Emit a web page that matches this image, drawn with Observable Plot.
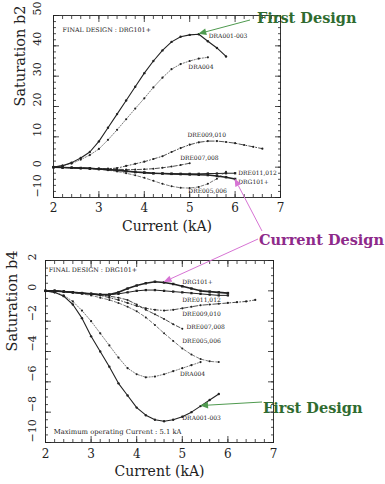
<!DOCTYPE html>
<html><head><meta charset="utf-8">
<script src="https://cdn.jsdelivr.net/npm/d3@7"></script>
<script src="https://cdn.jsdelivr.net/npm/@observablehq/plot@0.6"></script>
<style>
body{margin:0;background:#fff}
#wrap{position:relative;width:385px;height:484px;overflow:hidden;background:#fff}
#wrap svg{position:absolute;left:0}
</style></head><body><div id="wrap"></div>
<script>
// ---------------- data ----------------
const currentKA = [2.0,2.2,2.4,2.6,2.8,3.0,3.2,3.4,3.6,3.8,4.0,4.2,4.4,4.6,4.8,5.0,5.2,5.4,5.6,5.8,6.0,6.2,6.4,6.6];
const seriesNames = ["DRA001-003","DRA004","DRE009,010","DRE007,008","DRE011,012","DRG101+","DRE005,006"];

// Saturation b2 (top panel)
const b2_DRA001_003 = [0,0.5,1.5,3,5,8.5,13,17.5,22,26.5,31,35,38.5,41.3,43,43.6,43.8,41.5,39.3,36.5];
const b2_DRA004     = [0,0.5,1.2,2.5,4,6,9,12.3,15.8,19.3,22.7,26.3,29.5,32.3,34,35,35.8,36.2];
const b2_DRE009_010 = [0,-0.1,-0.2,-0.3,-0.4,-0.5,-0.5,-0.3,0.4,1.1,1.8,2.7,3.6,5.0,6.3,7.4,8.2,8.6,8.6,8.3,7.9,7.3,6.7,6.1];
const b2_DRE007_008 = [0,-0.1,-0.2,-0.3,-0.4,-0.5,-0.6,-0.7,-0.8,-0.8,-0.7,-0.5,-0.2,0.2,0.7,1.3];
const b2_DRE011_012 = [0,-0.1,-0.2,-0.3,-0.4,-0.6,-0.8,-1.0,-1.3,-1.6,-1.8,-2.0,-2.1,-2.2,-2.2,-2.2,-2.2,-2.1,-2.1,-2.0,-2.0];
const b2_DRG101p    = [0,-0.1,-0.2,-0.3,-0.4,-0.6,-0.8,-1.0,-1.3,-1.6,-1.8,-2.0,-2.1,-2.2,-2.3,-2.4,-2.5,-2.6,-2.9,-3.3,-3.9];
const b2_DRE005_006 = [0,-0.1,-0.2,-0.35,-0.5,-0.7,-1.0,-1.4,-2.0,-2.7,-3.5,-4.5,-5.5,-6.3,-6.8,-6.9,-6.5,-5.5,-3.8,-1.5];

// Saturation b4 (bottom panel)
const b4_DRA001_003 = [0,-0.1,-0.35,-0.9,-1.8,-3.0,-4.0,-5.0,-6.1,-6.9,-7.7,-8.2,-8.5,-8.6,-8.5,-8.3,-8.0,-7.6,-7.2,-6.8];
const b4_DRA004     = [0,-0.1,-0.3,-0.7,-1.3,-2.0,-2.8,-3.6,-4.4,-5.1,-5.5,-5.7,-5.65,-5.5,-5.3,-5.1,-4.9,-4.7];
const b4_DRE009_010 = [0,0,-0.05,-0.1,-0.15,-0.2,-0.3,-0.45,-0.6,-0.8,-1.0,-1.15,-1.25,-1.3,-1.25,-1.15,-1.05,-0.95,-0.9,-0.85,-0.8,-0.75,-0.7,-0.6];
const b4_DRE007_008 = [0,0,-0.05,-0.1,-0.15,-0.2,-0.25,-0.35,-0.45,-0.6,-0.9,-1.25,-1.55,-1.85,-2.2,-2.5];
const b4_DRE011_012 = [0,0,-0.05,-0.1,-0.15,-0.2,-0.25,-0.25,-0.2,-0.1,0,0.05,0.05,0,-0.05,-0.1,-0.15,-0.2,-0.25,-0.3,-0.3];
const b4_DRG101p    = [0,0,-0.05,-0.1,-0.15,-0.2,-0.25,-0.25,-0.1,0.15,0.35,0.5,0.6,0.55,0.45,0.3,0.15,0.0,-0.05,-0.1,-0.15];
const b4_DRE005_006 = [0,0,-0.05,-0.1,-0.2,-0.3,-0.45,-0.6,-0.8,-1.05,-1.35,-1.75,-2.25,-2.8,-3.3,-3.8,-4.2,-4.5,-4.65,-4.7];

const currentTicks = [2,3,4,5,6,7];
const b2Ticks = [50,40,30,20,10,0,-10];
const b4Ticks = [2,0,-2,-4,-6,-8,-10];

// label anchor points (data coords) for each curve's name
const b2LabelX = [5.42,4.97,4.95,4.79,6.07,6.07,4.97];
const b2LabelY = [43.3,33,10.7,3,-2,-5,-8];
const b4LabelX = [5.0,4.95,5.0,5.09,5.0,5.0,5.0];
const b4LabelY = [-8.4,-5.5,-1.5,-2.4,-0.6,0.6,-3.3];

// ---------------- styles ----------------
const ink = "#222";
const serif = "DejaVu Serif";
const lineStyle = {
  "DRA001-003": {w:1.1, dash:null, r:1.2, symbol:"circle"},
  "DRA004":     {w:0.6, dash:"1.2,1.6", r:1.1, symbol:"circle"},
  "DRE009,010": {w:0.8, dash:"5,2,1,2", r:1.1, symbol:"circle"},
  "DRE007,008": {w:0.8, dash:"4,2", r:1.0, symbol:"circle"},
  "DRE011,012": {w:1.0, dash:null, r:1.3, symbol:"square"},
  "DRG101+":    {w:1.6, dash:null, r:1.4, symbol:"square"},
  "DRE005,006": {w:0.6, dash:"3,2", r:1.0, symbol:"circle"}
};

function rowsFrom(list) {
  const rows = [];
  list.forEach((vals, k) => vals.forEach((v, i) => rows.push({series: seriesNames[k], current: currentKA[i], value: v})));
  return rows;
}
const b2Rows = rowsFrom([b2_DRA001_003,b2_DRA004,b2_DRE009_010,b2_DRE007_008,b2_DRE011_012,b2_DRG101p,b2_DRE005_006]);
const b4Rows = rowsFrom([b4_DRA001_003,b4_DRA004,b4_DRE009_010,b4_DRE007_008,b4_DRE011_012,b4_DRG101p,b4_DRE005_006]);

function curveMarks(rows) {
  return seriesNames.flatMap(name => {
    const st = lineStyle[name];
    const d = rows.filter(r => r.series === name);
    return [
      Plot.line(d, {x:"current", y:"value", stroke: ink, strokeWidth: st.w, strokeDasharray: st.dash}),
      Plot.dot(d, {x:"current", y:"value", r: st.r, fill: ink, stroke: null, symbol: st.symbol})
    ];
  });
}

function tickMarks(xMaj, xMin, yMaj, yMin) {
  const o = {tickFormat: () => "", label: null, stroke: ink, strokeWidth: 0.8};
  return [
    Plot.axisX(xMaj, {...o, anchor:"bottom", tickSize:-6}),
    Plot.axisX(xMin, {...o, anchor:"bottom", tickSize:-3}),
    Plot.axisX(xMaj, {...o, anchor:"top", tickSize:-6}),
    Plot.axisX(xMin, {...o, anchor:"top", tickSize:-3}),
    Plot.axisY(yMaj, {...o, anchor:"left", tickSize:-6}),
    Plot.axisY(yMin, {...o, anchor:"left", tickSize:-3}),
    Plot.axisY(yMaj, {...o, anchor:"right", tickSize:-6}),
    Plot.axisY(yMin, {...o, anchor:"right", tickSize:-3})
  ];
}

function labelMarks(xs, ys) {
  return Plot.text(seriesNames, {x: (d,i) => xs[i], y: (d,i) => ys[i], text: d => d,
    textAnchor:"start", fontSize: 6, fontFamily: serif, fill: ink});
}

const fmt = d => (d < 0 ? "\u2212" + Math.abs(d) : String(d));
const minorX = d3.range(2, 7.0001, 0.2);

const topChart = Plot.plot({
  width: 385, height: 250,
  marginLeft: 53, marginRight: 105, marginTop: 15, marginBottom: 53,
  style: {background:"transparent", overflow:"visible", fontFamily: serif},
  x: {domain: [2, 7]},
  y: {domain: [-10, 50]},
  marks: [
    ...curveMarks(b2Rows),
    labelMarks(b2LabelX, b2LabelY),
    Plot.text(["FINAL DESIGN : DRG101+"], {x: 2.2, y: 45.3, text: d => d, textAnchor:"start", fontSize: 6.3, fontFamily: serif, fill: ink}),
    Plot.frame({stroke: ink, strokeWidth: 0.9}),
    ...tickMarks(currentTicks, minorX, b2Ticks, d3.range(-10, 50.001, 2)),
    Plot.text(currentTicks, {x: d => d, frameAnchor:"bottom", dy: 14, text: fmt, fontSize: 12, fontFamily: serif, fill: ink}),
    Plot.text(b2Ticks, {y: d => d, frameAnchor:"left", dx: -16, rotate: -90, text: fmt, fontSize: 11, fontFamily: serif, fill: ink}),
    Plot.text(["Current (kA)"], {frameAnchor:"bottom", dy: 33, text: d => d, fontSize: 14, fontFamily: serif, fill: ink}),
    Plot.text(["Saturation b2"], {frameAnchor:"left", dx: -33, rotate: -90, text: d => d, fontSize: 14.5, fontFamily: serif, fill: ink})
  ]
});

const bottomTop = 244;
const bottomChart = Plot.plot({
  width: 385, height: 240,
  marginLeft: 45, marginRight: 112, marginTop: 16, marginBottom: 42,
  style: {background:"transparent", overflow:"visible", fontFamily: serif},
  x: {domain: [2, 7]},
  y: {domain: [-10, 2]},
  marks: [
    ...curveMarks(b4Rows),
    labelMarks(b4LabelX, b4LabelY),
    Plot.text(["FINAL DESIGN : DRG101+"], {x: 2.07, y: 1.4, text: d => d, textAnchor:"start", fontSize: 6.3, fontFamily: serif, fill: ink}),
    Plot.text(["Maximum operating Current : 5.1 kA"], {x: 2.18, y: -9.3, text: d => d, textAnchor:"start", fontSize: 6.8, fontFamily: serif, fill: ink}),
    Plot.frame({stroke: ink, strokeWidth: 0.9}),
    ...tickMarks(currentTicks, minorX, b4Ticks, d3.range(-10, 2.001, 0.5)),
    Plot.text(currentTicks, {x: d => d, frameAnchor:"bottom", dy: 15, text: fmt, fontSize: 12, fontFamily: serif, fill: ink}),
    Plot.text(b4Ticks, {y: d => d, frameAnchor:"left", dx: -13, rotate: -90, text: fmt, fontSize: 11, fontFamily: serif, fill: ink}),
    Plot.text(["Current (kA)"], {frameAnchor:"bottom", dy: 33, text: d => d, fontSize: 14, fontFamily: serif, fill: ink}),
    Plot.text(["Saturation b4"], {frameAnchor:"left", dx: -33, rotate: -90, text: d => d, fontSize: 14.5, fontFamily: serif, fill: ink})
  ]
});

const wrap = document.getElementById("wrap");
topChart.style.top = "0px";
bottomChart.style.top = bottomTop + "px";
wrap.append(topChart, bottomChart);

// ---------------- annotations overlay ----------------
const tx = topChart.scale("x"), ty = topChart.scale("y");
const bx = bottomChart.scale("x"), by = bottomChart.scale("y");
const topPt = (x, y) => [tx.apply(x), ty.apply(y)];
const botPt = (x, y) => [bx.apply(x), by.apply(y) + bottomTop];

const ov = d3.create("svg").attr("width", 385).attr("height", 484)
  .style("top", "0px").style("pointer-events", "none");

function arrow([x1, y1], [x2, y2], color) {
  const a = Math.atan2(y2 - y1, x2 - x1), L = 8, W = 3.3;
  const hx = x2 - L * Math.cos(a), hy = y2 - L * Math.sin(a);
  ov.append("line").attr("x1", x1).attr("y1", y1).attr("x2", hx).attr("y2", hy)
    .attr("stroke", color).attr("stroke-width", 1);
  ov.append("path")
    .attr("d", `M${x2},${y2}L${hx - W*Math.sin(a)},${hy + W*Math.cos(a)}L${hx + W*Math.sin(a)},${hy - W*Math.cos(a)}Z`)
    .attr("fill", color);
}
function label(x, y, txt, color) {
  ov.append("text").attr("x", x).attr("y", y).text(txt)
    .attr("fill", color).attr("font-family", serif).attr("font-weight", "bold").attr("font-size", 14.5);
}
const green = "#2f6b30", greenLine = "#4f9a4f", purple = "#8e2a8a", pink = "#d774d4";

// First Design (top): points at DRA001-003 peak
arrow([250, 20], topPt(currentKA[16], b2_DRA001_003[16]), greenLine);
label(257, 23, "First Design", green);
// Current Design: points at DRG101+ in both panels
arrow([262, 231], topPt(currentKA[20], b2_DRG101p[20]), pink);
arrow([258, 239], botPt(currentKA[13], b4_DRG101p[13]), pink);
label(259, 245, "Current Design", purple);
// First Design (bottom)
arrow([262, 402], botPt(currentKA[17], b4_DRA001_003[17]), greenLine);
label(263, 413, "First Design", green);

wrap.append(ov.node());
</script></body></html>
